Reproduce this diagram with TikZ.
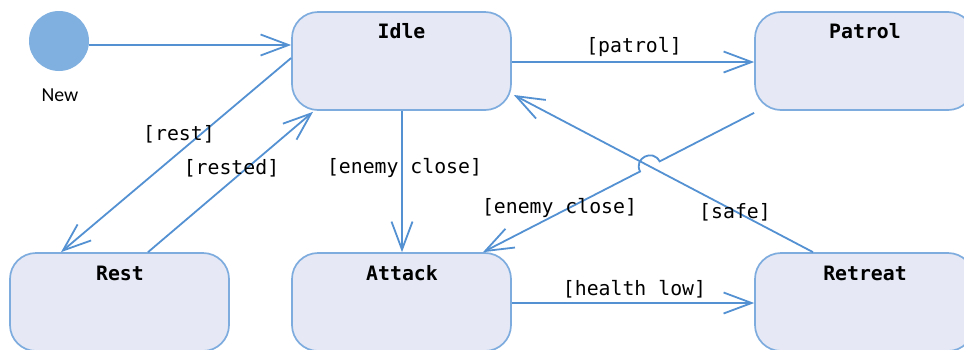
\documentclass[tikz,border=0pt]{standalone}
\usepackage{fontspec}
\setmonofont{DejaVu Sans Mono}
\newfontfamily\newlblfont{Carlito}
\usetikzlibrary{arrows.meta,calc,intersections}
\definecolor{lnc}{RGB}{83,145,211}
\definecolor{brd}{RGB}{126,172,222}
\definecolor{fil}{RGB}{230,233,245}
\definecolor{ini}{RGB}{127,176,224}
\begin{document}
\begin{tikzpicture}[x=1pt,y=-1pt,
  state/.style={draw=brd, fill=fil, line width=1.7pt, rounded corners=26pt,
    minimum width=219pt, minimum height=98pt, inner sep=0pt},
  ttl/.style={font=\ttfamily\bfseries\fontsize{19.8}{20}\selectfont, inner sep=0pt},
  lbl/.style={font=\ttfamily\fontsize{19.8}{20}\selectfont, inner sep=0pt},
  tr/.style={draw=lnc, line width=1.8pt,
    -{Straight Barb[length=28pt,width=21pt,line width=1.8pt]}}]
\useasboundingbox (0,0) rectangle (964,349);
\clip (0,0) rectangle (964,349);
\fill[white] (0,0) rectangle (964,349);

% states
\node[state] (idle) at (401.5,61) {};
\node[state] (patrol) at (864.5,61) {};
\node[state] (rest) at (119.5,302) {};
\node[state] (attack) at (401.5,302) {};
\node[state] (retreat) at (864.5,302) {};
\node[ttl] (idleT) at (401.5,31) {Idle};
\node[ttl] (patrolT) at (865,31) {Patrol};
\node[ttl] (restT) at (120,273) {Rest};
\node[ttl] (attackT) at (402,273) {Attack};
\node[ttl] (retreatT) at (865,273) {Retreat};

% initial
\node[circle, fill=ini, minimum size=60pt, inner sep=0pt] (init) at (59,41) {};
\node[font=\newlblfont\fontsize{19.8}{20}\selectfont, inner sep=0pt] (newl) at (60,95) {New};

% transitions
\draw[tr] ([yshift=-4pt]init.east) -- ([yshift=16pt]idle.west);
\draw[tr] ([yshift=-1pt]idle.east) -- ([yshift=-1pt]patrol.west);
\draw[tr] ([xshift=0.5pt]idle.south) -- ([xshift=0.5pt]attack.north);
\draw[tr] ([yshift=-1pt]attack.east) -- ([yshift=-1pt]retreat.west);
\draw[tr] ([yshift=3pt]idle.west) -- ([xshift=-58.5pt]rest.north);
\draw[tr] ([xshift=28.5pt]rest.north) -- ([xshift=-88.5pt,yshift=-1pt]idle.south);
\draw[tr, name path=safe] ([xshift=-51.5pt]retreat.north) -- ([xshift=2pt,yshift=-34pt]idle.east);

\coordinate (ps) at ([yshift=-2pt]patrol.south west);
\coordinate (pe) at ([xshift=81.5pt]attack.north);
\path[name path=pa] (ps) -- (pe);
\path[name intersections={of=pa and safe, by=X}];
\coordinate (hA) at ($(X)!11pt!(ps)$);
\coordinate (hB) at ($(X)!11pt!(pe)$);
\draw[tr] (ps) -- (hA) .. controls ($(hA)!14.7pt!-90:(X)$) and ($(hB)!14.7pt!90:(X)$) .. (hB) -- (pe);

% labels
\node[lbl] (lpatrol) at (634,47) {[patrol]};
\node[lbl] (lclose1) at (404.5,168) {[enemy close]};
\node[lbl] (lhealth) at (634.5,289) {[health low]};
\node[lbl] (lrest) at (179,134) {[rest]};
\node[lbl] (lrested) at (231.5,168) {[rested]};
\node[lbl] (lclose2) at (559.5,208) {[enemy close]};
\node[lbl] (lsafe) at (735,212) {[safe]};
\end{tikzpicture}
\end{document}
